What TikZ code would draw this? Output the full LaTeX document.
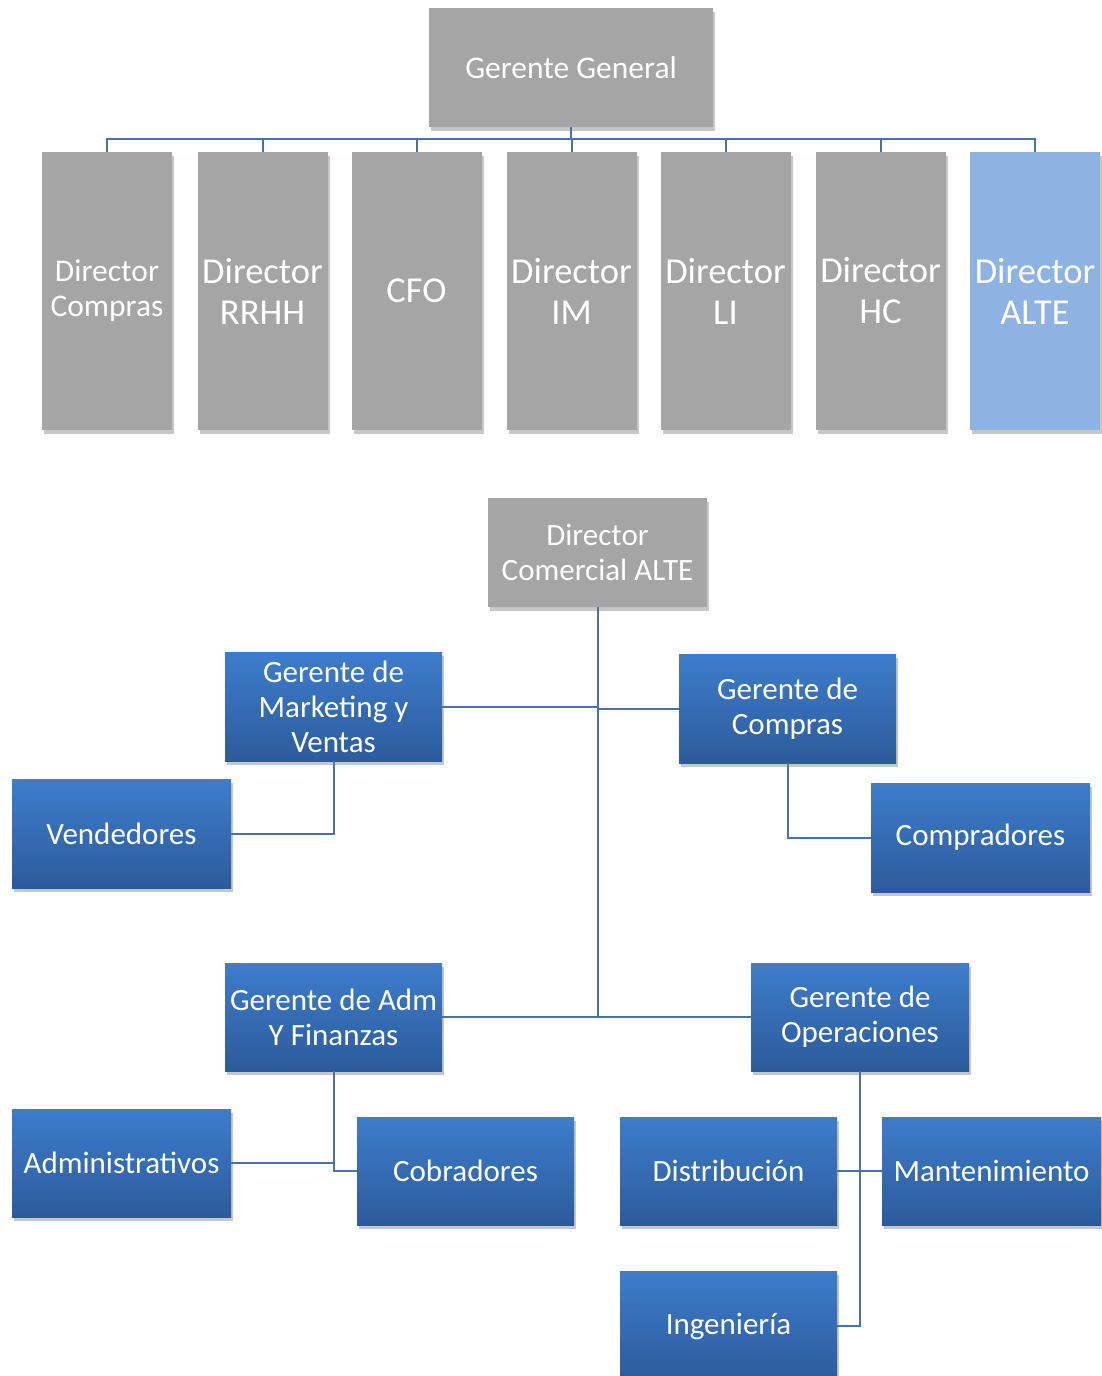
\documentclass[tikz,border=0pt]{standalone}
\usepackage{fontspec}
\setmainfont{Carlito}
\usetikzlibrary{shadows}
\definecolor{gbox}{HTML}{A5A5A5}
\definecolor{lbox}{HTML}{8DB3E2}
\definecolor{btop}{HTML}{3D7DCC}
\definecolor{bbot}{HTML}{2C5B9B}
\definecolor{conn}{HTML}{4A72A8}
\tikzset{
  basebox/.style={rectangle, inner sep=0pt, align=center, text=white,
    drop shadow={shadow xshift=2pt, shadow yshift=-4pt, opacity=.22, fill=black}},
  greybox/.style={basebox, fill=gbox},
  lightbox/.style={basebox, fill=lbox},
  bluebox/.style={basebox, top color=btop, bottom color=bbot,
    minimum width=218pt, minimum height=108pt,
    font=\fontsize{31}{35}\selectfont},
  dirbox/.style={minimum width=130pt, minimum height=278pt,
    font=\fontsize{36.5}{41}\selectfont},
  link/.style={draw=conn, line width=2pt}
}
\begin{document}
\begin{tikzpicture}[x=1pt,y=-1pt]
\useasboundingbox (0,0) rectangle (1101,1376);
\fill[white] (0,0) rectangle (1101,1376);

% top level
\node[greybox, minimum width=284pt, minimum height=119pt,
  font=\fontsize{31.5}{35}\selectfont] (gg) at (571,67.5) {Gerente General};

\node[greybox, dirbox, font=\fontsize{31.5}{35}\selectfont] (d1) at (107,291) {Director\\Compras};
\node[greybox, dirbox] (d2) at (262.5,291) {Director\\RRHH};
\node[greybox, dirbox] (d3) at (416.5,291) {CFO};
\node[greybox, dirbox] (d4) at (571.5,291) {Director\\IM};
\node[greybox, dirbox] (d5) at (725.5,291) {Director\\LI};
\node[greybox, dirbox] (d6) at (880.5,291) {Director\\HC};
\node[lightbox, dirbox] (d7) at (1035,291) {Director\\ALTE};

\draw[link] (gg.south) -- ++(0,12) coordinate (bus);
\foreach \d in {d1,d2,d3,d4,d5,d6,d7} {
  \draw[link] (bus) -| (\d.north);
}

% second chart
\node[greybox, minimum width=219pt, minimum height=109pt,
  font=\fontsize{31}{35}\selectfont] (dca) at (597.5,552.5) {Director\\Comercial ALTE};

\node[bluebox, minimum width=217pt, minimum height=109pt] (gmv) at (333.5,706.5) {Gerente de\\Marketing y\\Ventas};
\node[bluebox, minimum width=217pt, minimum height=109pt] (gc) at (787.5,708.5) {Gerente de\\Compras};
\node[bluebox, minimum width=219pt, minimum height=109pt] (vend) at (121.5,833.5) {Vendedores};
\node[bluebox, minimum width=219pt, minimum height=109pt] (comp) at (980.5,837.5) {Compradores};
\node[bluebox, minimum width=217pt] (gaf) at (333.5,1017) {Gerente de Adm\\Y Finanzas};
\node[bluebox] (go) at (860,1017) {Gerente de\\Operaciones};
\node[bluebox, minimum width=219pt] (adm) at (121.5,1163) {Administrativos};
\node[bluebox, minimum width=217pt] (cob) at (465.5,1171) {Cobradores};
\node[bluebox, minimum width=217pt] (dist) at (728.5,1171) {Distribución};
\node[bluebox, minimum width=219pt] (mant) at (991.5,1171) {Mantenimiento};
\node[bluebox, minimum width=217pt, minimum height=110pt] (ing) at (728.5,1326) {Ingeniería};

\draw[link] (dca.south) -- (dca.south |- gaf.east);
\draw[link] (gmv.east) -- (dca.south |- gmv.east);
\draw[link] (gc.west) -- (dca.south |- gc.west);
\draw[link] (gaf.east) -- (go.west);
\draw[link] (gmv.south) |- (vend.east);
\draw[link] (gc.south) |- (comp.west);
\draw[link] (gaf.south) |- (cob.west);
\draw[link] (adm.east) -- (gaf.south |- adm.east);
\draw[link] (go.south) |- (ing.east);
\draw[link] (dist.east) -- (mant.west);
\end{tikzpicture}
\end{document}
